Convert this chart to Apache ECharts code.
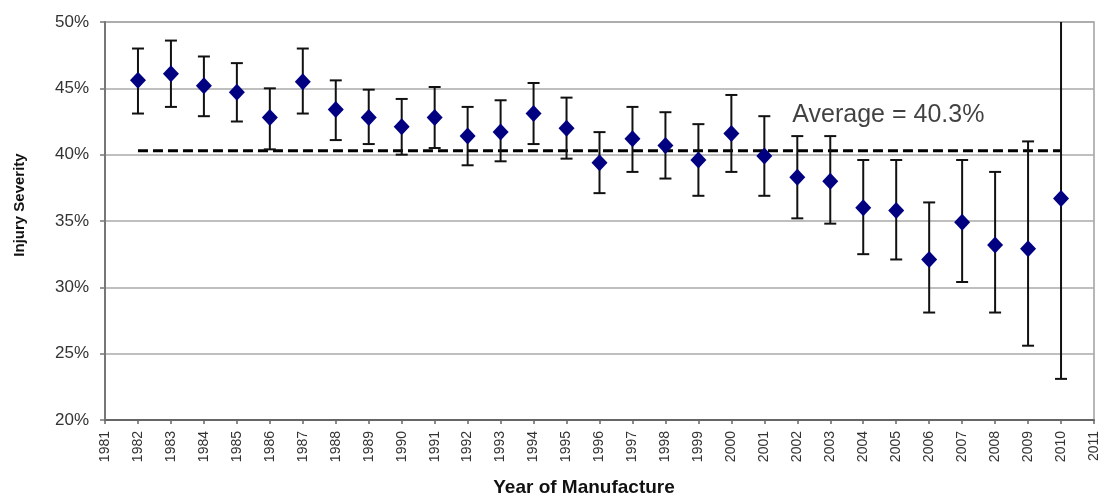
<!DOCTYPE html>
<html>
<head>
<meta charset="utf-8">
<script src="https://cdn.jsdelivr.net/npm/echarts@6/dist/echarts.min.js"></script>
<style>html,body{margin:0;padding:0;background:#fff;}#c{width:1101px;height:497px;}</style>
</head>
<body>
<div id="c"></div>
<script>
const years = [1982,1983,1984,1985,1986,1987,1988,1989,1990,1991,1992,1993,1994,1995,1996,1997,1998,1999,2000,2001,2002,2003,2004,2005,2006,2007,2008,2009,2010];
const severity = [45.6,46.1,45.2,44.7,42.8,45.5,43.4,42.8,42.1,42.8,41.4,41.7,43.1,42.0,39.4,41.2,40.7,39.6,41.6,39.9,38.3,38.0,36.0,35.8,32.1,34.9,33.2,32.9,36.7];
const upper = [48.0,48.6,47.4,46.9,45.0,48.0,45.6,44.9,44.2,45.1,43.6,44.1,45.4,44.3,41.7,43.6,43.2,42.3,44.5,42.9,41.4,41.4,39.6,39.6,36.4,39.6,38.7,41.0,51.0];
const lower = [43.1,43.6,42.9,42.5,40.4,43.1,41.1,40.8,40.0,40.5,39.2,39.5,40.8,39.7,37.1,38.7,38.2,36.9,38.7,36.9,35.2,34.8,32.5,32.1,28.1,30.4,28.1,25.6,23.1];
const averageValue = 40.3;
const averageYears = [1982, 2010];
const averageLabel = 'Average = 40.3%';
const yTicks = [20,25,30,35,40,45,50];
const xTitle = 'Year of Manufacture';
const yTitle = 'Injury Severity';

const chart = echarts.init(document.getElementById('c'));
const errData = years.map((y,i)=>[y, lower[i], upper[i]]);
chart.setOption({
  animation:false,
  textStyle:{fontFamily:'Liberation Sans, Arial, sans-serif'},
  grid:{left:105,right:3,top:22,bottom:77,show:true,borderColor:'#a0a0a0',borderWidth:1.5},
  graphic:[
    {type:'text',x:12,y:205,rotation:Math.PI/2,style:{text:yTitle,font:'bold 15px "Liberation Sans", Arial, sans-serif',fill:'#111',align:'center',verticalAlign:'top'}},
    {type:'text',x:584,y:488,style:{text:xTitle,font:'bold 19px "Liberation Sans", Arial, sans-serif',fill:'#111',align:'center',verticalAlign:'middle'}}
  ],
  xAxis:{
    type:'value',min:1981,max:2011,interval:1,
    axisLine:{show:true,lineStyle:{color:'#666',width:2}},
    axisTick:{show:true,length:4,lineStyle:{color:'#666',width:1.5}},
    axisLabel:{rotate:90,fontSize:14,color:'#333',margin:11,formatter:v=>String(v)},
    splitLine:{show:false}
  },
  yAxis:{
    type:'value',min:yTicks[0],max:yTicks[yTicks.length-1],interval:5,
    axisLine:{show:true,lineStyle:{color:'#777',width:2}},
    axisTick:{show:true,length:5,lineStyle:{color:'#777',width:1.5}},
    axisLabel:{fontSize:17,color:'#333',margin:16,formatter:'{value}%'},
    splitLine:{show:true,lineStyle:{color:'#aaaaaa',width:1.5}}
  },
  series:[
    {
      type:'line',
      data:averageYears.map(y=>[y,averageValue]),
      symbol:'none',
      lineStyle:{color:'#000',width:3,type:[10,5]},
      z:3
    },
    {
      type:'custom',
      clip:true,
      data:errData,
      renderItem:(params,api)=>{
        const x=api.value(0);
        const lo=api.coord([x,api.value(1)]);
        const hi=api.coord([x,api.value(2)]);
        const hw=6;
        const st={stroke:'#111',lineWidth:2};
        return {type:'group',children:[
          {type:'line',shape:{x1:lo[0],y1:lo[1],x2:hi[0],y2:hi[1]},style:st},
          {type:'line',shape:{x1:lo[0]-hw,y1:lo[1],x2:lo[0]+hw,y2:lo[1]},style:st},
          {type:'line',shape:{x1:hi[0]-hw,y1:hi[1],x2:hi[0]+hw,y2:hi[1]},style:st}
        ]};
      },
      z:4
    },
    {
      type:'scatter',
      data:years.map((y,i)=>[y,severity[i]]),
      symbol:'diamond',
      symbolSize:[16,17],
      itemStyle:{color:'#000080',opacity:1},
      z:5
    },
    {
      type:'scatter',
      data:[[2001.85,43.0]],
      symbolSize:0,
      silent:true,
      label:{show:true,position:'right',distance:0,formatter:averageLabel,fontSize:25,color:'#111'},
      z:6
    }
  ]
});
</script>
</body>
</html>
